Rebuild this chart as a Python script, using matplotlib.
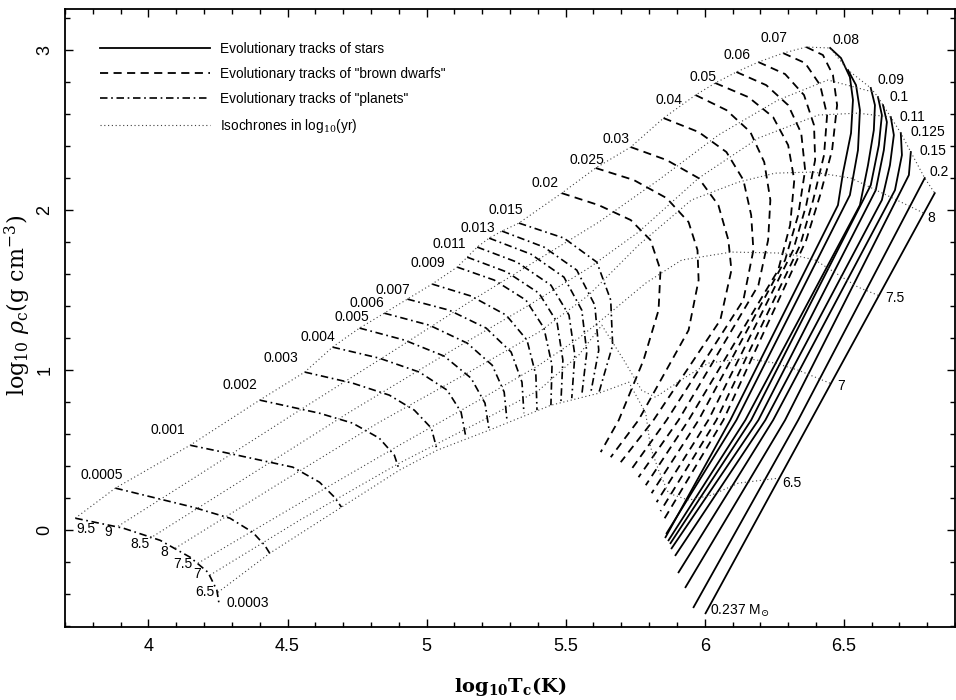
import numpy as np
import matplotlib.pyplot as plt
from matplotlib.ticker import MultipleLocator, FormatStrFormatter
from matplotlib.lines import Line2D

plt.rcParams['font.family'] = ['Liberation Sans', 'DejaVu Sans']
plt.rcParams['mathtext.fontset'] = 'dejavuserif'

# "planets" (dash-dot): each track from the old end to the young end
planet_mass = [0.0003, 0.0005, 0.001, 0.002, 0.003, 0.004, 0.005, 0.006,
               0.007, 0.008, 0.009, 0.010, 0.011, 0.012, 0.013, 0.015]
planet_logT = [
    [3.737, 3.909, 4.042, 4.150, 4.214, 4.246, 4.253],
    [3.881, 4.160, 4.293, 4.375, 4.418, 4.436],
    [4.150, 4.268, 4.519, 4.615, 4.669, 4.694],
    [4.400, 4.615, 4.734, 4.830, 4.884, 4.902],
    [4.562, 4.734, 4.866, 4.956, 5.017, 5.038],
    [4.662, 4.830, 4.974, 5.074, 5.124, 5.142],
    [4.759, 4.920, 5.063, 5.160, 5.210, 5.225],
    [4.848, 5.010, 5.146, 5.236, 5.279, 5.289],
    [4.931, 5.081, 5.214, 5.304, 5.343, 5.350],
    [5.020, 5.160, 5.286, 5.361, 5.393, 5.397],
    [5.110, 5.243, 5.357, 5.422, 5.451, 5.447],
    [5.146, 5.289, 5.404, 5.469, 5.490, 5.483],
    [5.182, 5.325, 5.447, 5.512, 5.533, 5.522],
    [5.225, 5.375, 5.494, 5.558, 5.576, 5.558],
    [5.271, 5.422, 5.540, 5.605, 5.619, 5.590],
    [5.332, 5.494, 5.612, 5.662, 5.669, 5.619],
]
planet_logrho = [
    [0.075, 0.013, -0.063, -0.169, -0.263, -0.375, -0.45],
    [0.263, 0.144, 0.075, -0.013, -0.094, -0.144],
    [0.531, 0.488, 0.394, 0.300, 0.206, 0.144],
    [0.813, 0.731, 0.669, 0.575, 0.469, 0.375],
    [0.988, 0.919, 0.844, 0.750, 0.638, 0.500],
    [1.144, 1.075, 0.988, 0.875, 0.738, 0.575],
    [1.263, 1.188, 1.088, 0.950, 0.794, 0.625],
    [1.356, 1.281, 1.169, 1.031, 0.863, 0.688],
    [1.444, 1.375, 1.263, 1.113, 0.925, 0.731],
    [1.538, 1.463, 1.344, 1.188, 0.969, 0.750],
    [1.644, 1.563, 1.438, 1.263, 1.031, 0.781],
    [1.706, 1.613, 1.481, 1.300, 1.063, 0.800],
    [1.769, 1.675, 1.531, 1.344, 1.094, 0.825],
    [1.825, 1.725, 1.581, 1.375, 1.113, 0.844],
    [1.869, 1.769, 1.625, 1.406, 1.125, 0.856],
    [1.919, 1.825, 1.675, 1.438, 1.156, 0.856],
]

# "brown dwarfs" (dashed)
bd_mass = [0.02, 0.025, 0.03, 0.035, 0.04, 0.05, 0.055, 0.06, 0.065, 0.07]
bd_logT = [
    [5.486, 5.619, 5.734, 5.805, 5.841, 5.834, 5.780, 5.691, 5.626],
    [5.608, 5.745, 5.863, 5.942, 5.974, 5.978, 5.942, 5.762, 5.662],
    [5.734, 5.863, 5.978, 6.049, 6.085, 6.096, 6.056, 5.816, 5.698],
    [5.852, 5.978, 6.078, 6.139, 6.167, 6.175, 6.139, 5.863, 5.734],
    [5.967, 6.078, 6.164, 6.214, 6.236, 6.228, 6.193, 5.906, 5.762],
    [6.038, 6.157, 6.246, 6.300, 6.322, 6.307, 6.264, 5.942, 5.788],
    [6.114, 6.221, 6.300, 6.347, 6.361, 6.336, 6.289, 5.978, 5.809],
    [6.193, 6.289, 6.357, 6.393, 6.397, 6.365, 6.318, 6.013, 5.827],
    [6.282, 6.361, 6.415, 6.440, 6.429, 6.390, 6.343, 6.042, 5.841],
    [6.365, 6.425, 6.461, 6.476, 6.458, 6.415, 6.365, 6.067, 5.852],
]
bd_logrho = [
    [2.106, 2.031, 1.938, 1.813, 1.625, 1.375, 1.063, 0.688, 0.488],
    [2.263, 2.188, 2.075, 1.925, 1.750, 1.563, 1.250, 0.688, 0.456],
    [2.394, 2.313, 2.200, 2.031, 1.813, 1.625, 1.313, 0.688, 0.425],
    [2.575, 2.488, 2.363, 2.188, 1.969, 1.750, 1.438, 0.688, 0.375],
    [2.719, 2.625, 2.488, 2.300, 2.063, 1.813, 1.531, 0.688, 0.331],
    [2.794, 2.706, 2.581, 2.406, 2.188, 1.906, 1.625, 0.688, 0.281],
    [2.863, 2.781, 2.656, 2.481, 2.250, 1.969, 1.688, 0.688, 0.231],
    [2.925, 2.850, 2.719, 2.531, 2.313, 2.031, 1.750, 0.688, 0.175],
    [2.981, 2.919, 2.781, 2.594, 2.344, 2.063, 1.781, 0.688, 0.119],
    [3.019, 2.969, 2.844, 2.656, 2.375, 2.094, 1.813, 0.688, 0.063],
]

# stars (solid)
star_mass = [0.08, 0.085, 0.09, 0.095, 0.1, 0.11, 0.125, 0.15, 0.2, 0.237]
star_logT = [
    [6.451, 6.490, 6.522, 6.533, 6.526, 6.497, 6.479, 6.092, 5.859],
    [6.515, 6.544, 6.558, 6.551, 6.522, 6.114, 5.863],
    [6.597, 6.612, 6.608, 6.587, 6.558, 6.146, 5.870],
    [6.623, 6.637, 6.626, 6.597, 6.167, 5.877],
    [6.641, 6.655, 6.644, 6.615, 6.193, 5.881],
    [6.669, 6.680, 6.666, 6.637, 6.218, 5.895],
    [6.705, 6.709, 6.684, 6.246, 5.906],
    [6.741, 6.734, 6.289, 5.931],
    [6.791, 6.336, 5.960],
    [6.827, 6.382, 6.003],
]
star_logrho = [
    [3.013, 2.950, 2.831, 2.688, 2.481, 2.231, 2.031, 0.688, -0.044],
    [2.875, 2.781, 2.625, 2.375, 2.094, 0.688, -0.019],
    [2.763, 2.656, 2.500, 2.281, 2.031, 0.688, -0.063],
    [2.706, 2.594, 2.406, 2.156, 0.688, -0.081],
    [2.656, 2.550, 2.375, 2.125, 0.688, -0.113],
    [2.581, 2.469, 2.281, 2.063, 0.688, -0.156],
    [2.481, 2.344, 2.125, 0.688, -0.263],
    [2.363, 2.219, 0.688, -0.356],
    [2.200, 0.688, -0.481],
    [2.106, 0.688, -0.519],
]

# isochrones (dotted), log10(age/yr); the oldest one joins the track ends
iso_age = [9.0, 8.5, 8.0, 7.5, 7.0, 6.5]
iso_logT = [
    [3.891, 4.185, 4.544, 4.902, 5.153, 5.368, 5.619, 5.834, 6.049, 6.264,
     6.443, 6.605],
    [4.006, 4.365, 4.723, 5.081, 5.368, 5.583, 5.762, 5.978, 6.193, 6.408,
     6.551, 6.669],
    [4.096, 4.472, 4.830, 5.153, 5.404, 5.583, 5.762, 5.952, 6.121, 6.253,
     6.390, 6.526, 6.669, 6.788],
    [4.178, 4.544, 4.902, 5.189, 5.404, 5.547, 5.637, 5.788, 5.917, 6.096,
     6.289, 6.397, 6.551, 6.630],
    [4.221, 4.544, 4.902, 5.189, 5.404, 5.547, 5.630, 5.709, 5.773, 5.823,
     5.931, 6.013, 6.146, 6.253, 6.336, 6.458],
    [4.250, 4.436, 4.694, 4.902, 5.038, 5.225, 5.447, 5.619, 5.727, 5.788,
     5.805, 5.834, 5.870, 5.942, 6.024, 6.121, 6.264],
]
iso_logrho = [
    [0.025, 0.350, 0.750, 1.144, 1.425, 1.656, 1.925, 2.188, 2.469, 2.688,
     2.813, 2.738],
    [-0.050, 0.344, 0.738, 1.113, 1.406, 1.638, 1.863, 2.200, 2.450, 2.594,
     2.606, 2.581],
    [-0.113, 0.294, 0.675, 0.988, 1.238, 1.469, 1.781, 2.063, 2.175, 2.231,
     2.238, 2.200, 2.081, 1.981],
    [-0.206, 0.169, 0.531, 0.813, 1.031, 1.200, 1.325, 1.544, 1.688, 1.738,
     1.731, 1.688, 1.519, 1.463],
    [-0.281, 0.063, 0.419, 0.675, 0.875, 1.094, 1.281, 1.063, 0.875, 0.831,
     0.956, 1.044, 1.075, 1.044, 1.000, 0.913],
    [-0.388, -0.144, 0.144, 0.375, 0.500, 0.625, 0.781, 0.856, 0.925, 0.731,
     0.519, 0.375, 0.231, 0.188, 0.219, 0.294, 0.325],
]

# text labels
mass_text = ['0.0005', '0.001', '0.002', '0.003', '0.004', '0.005', '0.006',
             '0.007', '0.009', '0.011', '0.013', '0.015', '0.02', '0.025',
             '0.03', '0.04', '0.05', '0.06', '0.07', '0.08', '0.09', '0.1',
             '0.11', '0.125', '0.15', '0.2']
mass_x = [3.831, 4.071, 4.329, 4.476, 4.609, 4.730, 4.784, 4.878, 5.003,
          5.081, 5.185, 5.286, 5.425, 5.576, 5.680, 5.870, 5.995, 6.117,
          6.250, 6.508, 6.669, 6.698, 6.748, 6.802, 6.820, 6.842]
mass_y = [0.344, 0.625, 0.906, 1.075, 1.206, 1.331, 1.419, 1.500, 1.669,
          1.788, 1.888, 2.000, 2.169, 2.313, 2.444, 2.688, 2.831, 2.969,
          3.075, 3.063, 2.813, 2.706, 2.581, 2.488, 2.369, 2.238]
age_text = ['9.5', '9', '8.5', '8', '7.5', '7', '6.5', '8', '7.5', '7', '6.5']
age_x = [3.777, 3.856, 3.971, 4.056, 4.125, 4.175, 4.203, 6.813, 6.684, 6.490, 6.314]
age_y = [0.006, -0.013, -0.088, -0.138, -0.213, -0.275, -0.388, 1.950, 1.450, 0.900, 0.294]

solid = dict(color='k', lw=1.3, ls='-')
dashed = dict(color='k', lw=1.3, ls=(0, (4.5, 3.0)))
dashdot = dict(color='k', lw=1.2, ls=(0, (4.5, 2.2, 1.0, 2.2)))
dotted = dict(color='0.25', lw=0.8, ls=(0, (1.0, 2.4)))

fig = plt.figure(figsize=(9.56, 7.0), dpi=100)
ax = fig.add_axes([0.068, 0.104, 0.931, 0.883])

for x, y in zip(star_logT, star_logrho):
    ax.plot(x, y, **solid)
for x, y in zip(bd_logT, bd_logrho):
    ax.plot(x, y, **dashed)
for x, y in zip(planet_logT, planet_logrho):
    ax.plot(x, y, **dashdot)

# oldest isochrone through the end points of all tracks
all_T = planet_logT + bd_logT + star_logT
all_rho = planet_logrho + bd_logrho + star_logrho
ax.plot([t[0] for t in all_T], [r[0] for r in all_rho], **dotted)
for x, y in zip(iso_logT, iso_logrho):
    ax.plot(x, y, **dotted)

for t, x, y in zip(mass_text, mass_x, mass_y):
    ax.text(x, y, t, fontsize=10, ha='center', va='center')
for t, x, y in zip(age_text, age_x, age_y):
    ax.text(x, y, t, fontsize=10, ha='center', va='center')
ax.text(4.282, -0.456, '0.0003', fontsize=10, ha='left', va='center')
ax.text(6.020, -0.506, r'0.237 M$_{\odot}$', fontsize=10, ha='left', va='center')

handles = [Line2D([], [], **solid), Line2D([], [], **dashed),
           Line2D([], [], **dashdot), Line2D([], [], **dotted)]
labels = ['Evolutionary tracks of stars',
          'Evolutionary tracks of "brown dwarfs"',
          'Evolutionary tracks of "planets"',
          r'Isochrones in log$_{10}$(yr)']
ax.legend(handles, labels, loc='upper left', bbox_to_anchor=(0.039, 0.947),
          frameon=False, handlelength=8.1, handletextpad=0.73, fontsize=9.8,
          labelspacing=0.8, borderaxespad=0, borderpad=0)

ax.set_xlim(3.7, 6.9)
ax.set_ylim(-0.606, 3.256)
ax.xaxis.set_major_locator(MultipleLocator(0.5))
ax.xaxis.set_minor_locator(MultipleLocator(0.1))
ax.yaxis.set_major_locator(MultipleLocator(1))
ax.yaxis.set_minor_locator(MultipleLocator(0.2))
ax.xaxis.set_major_formatter(FormatStrFormatter('%g'))
ax.yaxis.set_major_formatter(FormatStrFormatter('%g'))
ax.tick_params(which='both', direction='in', top=True, right=True, width=1.0)
ax.tick_params(which='major', length=6, labelsize=13)
ax.tick_params(axis='x', which='major', pad=8)
ax.tick_params(axis='y', which='major', pad=8.5)
ax.tick_params(which='minor', length=3.5)
for lab in ax.get_yticklabels():
    lab.set_rotation(90)
    lab.set_va('center')
for s in ax.spines.values():
    s.set_linewidth(1.3)

ax.set_xlabel(r'log$_{\mathbf{10}}$T$_{\mathbf{c}}$(K)', fontsize=14,
              fontfamily='DejaVu Serif', fontweight='bold')
ax.set_ylabel(r'log$_{10}$ $\rho_{\rm c}$(g cm$^{-3}$)',
              fontsize=16, fontfamily='DejaVu Serif')
ax.xaxis.set_label_coords(0.5, -0.078)
ax.yaxis.set_label_coords(-0.036, 0.52)

fig.savefig('out.png', dpi=100)
